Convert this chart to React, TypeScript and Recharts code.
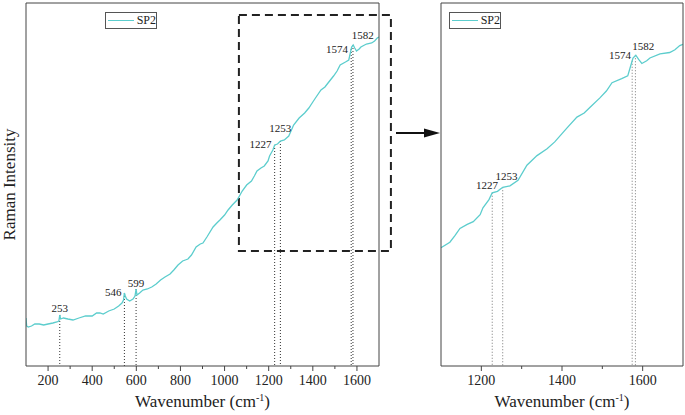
import { LineChart, Line, XAxis, YAxis, ReferenceLine, ReferenceArea, ReferenceDot, Legend } from "recharts";

// SP2 Raman spectrum, intensity in arbitrary units
const wavenumbers = [
  100, 103, 110, 125, 140, 160, 180, 200, 222, 240, 249, 253, 257, 270, 290, 313, 340, 370, 400, 420,
  435, 450, 475, 500, 520, 535, 542, 546, 550, 556, 570, 585, 594, 599, 603, 615, 630, 650, 670, 690,
  710, 730, 753, 770, 789, 810, 834, 850, 871, 890, 902, 920, 948, 965, 979, 1000, 1016, 1035, 1057, 1080,
  1100, 1122, 1135, 1147, 1165, 1180, 1197, 1204, 1219, 1227, 1240, 1253, 1271, 1291, 1313, 1338, 1363, 1382, 1400, 1412,
  1437, 1455, 1469, 1494, 1510, 1524, 1548, 1563, 1570, 1576, 1583, 1590, 1598, 1610, 1618, 1643, 1667, 1680, 1692, 1700,
];
const intensities = [
  48, 40, 39, 40, 42, 42, 41, 42, 43, 44, 45, 51, 47, 48, 47, 46, 48, 50, 50, 53,
  53, 52, 55, 57, 60, 63, 66, 73, 70, 67, 65, 67, 70, 77, 71, 73, 76, 77, 79, 82,
  86, 89, 92, 96, 101, 105, 107, 111, 119, 122, 123, 129, 139, 143, 146, 151, 156, 161, 166, 175,
  181, 185, 190, 195, 198, 200, 205, 210, 216, 221, 222, 225, 226, 230, 241, 248, 253, 258, 264, 268,
  276, 279, 283, 290, 295, 301, 304, 306, 313, 319, 321, 318, 315, 317, 319, 322, 323, 325, 328, 329,
];

const peakPositions = [253, 546, 599, 1227, 1253, 1574, 1582];
const peakHeights = [51, 73, 77, 221, 225, 317, 321];

const fullTicks = [200, 300, 400, 500, 600, 700, 800, 900, 1000, 1100, 1200, 1300, 1400, 1500, 1600];
const zoomTicks = [1200, 1300, 1400, 1500, 1600];

const spectrum = wavenumbers.map((x, i) => ({ x, y: intensities[i] }));
const zoomSpectrum = spectrum.filter((d) => d.x >= 1100);

const FONT = '"Liberation Serif", "Times New Roman", "DejaVu Serif", serif';
const TEAL = "#5ccdcd";
const AXIS = "#444";
const textStyle = { fontFamily: FONT };

// label nudges (dx, dy from the peak top)
const overviewOffsets: Record<number, [number, number]> = {
  253: [0, -3], 546: [-11, 3], 599: [0, -2], 1227: [-14, 3], 1253: [0, -9], 1574: [-14, 4], 1582: [10, -6],
};
const zoomOffsets: Record<number, [number, number]> = {
  1227: [-5, -4], 1253: [4, -7], 1574: [-12, -2], 1582: [8, -5],
};

function AxisTick(props: any) {
  const { x, y, payload } = props;
  const major = payload.value % 200 === 0;
  return (
    <g>
      <line x1={x} x2={x} y1={y} y2={y + (major ? 5 : 3)} stroke={AXIS} />
      {major && (
        <text x={x} y={y + 19} textAnchor="middle" fontSize={14} fill="#222" style={textStyle}>
          {payload.value}
        </text>
      )}
    </g>
  );
}

function XTitle(props: any) {
  const vb = props.viewBox;
  return (
    <text x={vb.x + vb.width / 2} y={407} textAnchor="middle" fontSize={17} fill="#222" style={textStyle}>
      <tspan>Wavenumber (cm</tspan>
      <tspan dy={-6} fontSize={10}>-1</tspan>
      <tspan dy={6}>)</tspan>
    </text>
  );
}

function YTitle(props: any) {
  const vb = props.viewBox;
  const cy = vb.y + vb.height / 2;
  return (
    <text x={15} y={cy} transform={`rotate(-90 15 ${cy})`} textAnchor="middle" fontSize={17} fill="#222" style={textStyle}>
      Raman Intensity
    </text>
  );
}

function LegendBox() {
  return (
    <div style={{ border: "1px solid #555", width: 50, height: 15, display: "flex", alignItems: "center", boxSizing: "content-box" }}>
      <div style={{ width: 26, height: 0, borderTop: `1.5px solid ${TEAL}`, marginLeft: 2 }} />
      <span style={{ fontFamily: FONT, fontSize: 12, color: "#222", marginLeft: 3, lineHeight: "15px" }}>SP2</span>
    </div>
  );
}

function Panel(props: {
  data: { x: number; y: number }[];
  width: number;
  left: number;
  right: number;
  xDomain: [number, number];
  yDomain: [number, number];
  ticks: number[];
  offsets: Record<number, [number, number]>;
  overview: boolean;
  legendLeft: number;
  lineColor: string;
}) {
  const { data, width, left, right, xDomain, yDomain, ticks, offsets, overview } = props;
  const peaks = peakPositions.map((p, i) => ({ p, h: peakHeights[i] })).filter((d) => offsets[d.p]);
  return (
    <LineChart width={width} height={415} data={data} margin={{ top: 2, right: right - 1, bottom: 0, left: left - 1 }}>
      <XAxis
        dataKey="x"
        type="number"
        domain={xDomain}
        ticks={ticks}
        interval={0}
        allowDataOverflow
        height={49}
        tickSize={0}
        tickMargin={0}
        tickLine={false}
        axisLine={{ stroke: AXIS }}
        tick={<AxisTick />}
        label={(p: any) => <XTitle {...p} />}
      />
      <XAxis xAxisId="top" orientation="top" dataKey="x" type="number" domain={xDomain} height={1} tick={false} tickLine={false} axisLine={{ stroke: AXIS }} />
      <YAxis
        type="number"
        domain={yDomain}
        allowDataOverflow
        width={1}
        tick={false}
        tickLine={false}
        axisLine={{ stroke: AXIS }}
        label={overview ? (p: any) => <YTitle {...p} /> : undefined}
      />
      <YAxis yAxisId="right" orientation="right" type="number" domain={yDomain} width={1} tick={false} tickLine={false} axisLine={{ stroke: AXIS }} />
      <Legend
        layout="vertical"
        align="center"
        verticalAlign="middle"
        wrapperStyle={{ position: "absolute", left: props.legendLeft, top: 12, width: 52, height: 17 }}
        content={() => <LegendBox />}
      />
      {peaks.map((d) => (
        <ReferenceLine
          key={`l${d.p}`}
          segment={[{ x: d.p, y: d.h }, { x: d.p, y: yDomain[0] }]}
          stroke={props.lineColor}
          strokeDasharray="1 2"
          strokeWidth={1}
          ifOverflow="visible"
        />
      ))}
      {overview && (
        <ReferenceArea
          x1={1065}
          x2={1754}
          y1={115}
          y2={351}
          ifOverflow="visible"
          fill="none"
          fillOpacity={0}
          stroke="#222"
          strokeWidth={2}
          strokeDasharray="8 5"
        />
      )}
      <Line type="linear" dataKey="y" name="SP2" stroke={TEAL} strokeWidth={1.3} dot={false} isAnimationActive={false} />
      {peaks.map((d) => (
        <ReferenceDot
          key={`d${d.p}`}
          x={d.p}
          y={d.h}
          r={0.1}
          fill="none"
          stroke="none"
          ifOverflow="visible"
          label={(lp: any) => (
            <text
              x={lp.viewBox.x + offsets[d.p][0]}
              y={lp.viewBox.y + offsets[d.p][1]}
              textAnchor="middle"
              fontSize={11}
              fill="#222"
              style={textStyle}
            >
              {d.p}
            </text>
          )}
        />
      ))}
    </LineChart>
  );
}

export default function App() {
  return (
    <div style={{ position: "absolute", left: 0, top: 0, width: 685, height: 415, background: "#fff", fontFamily: FONT }}>
      <div style={{ position: "absolute", left: 0, top: 0 }}>
        <Panel
          data={spectrum}
          width={400}
          left={26}
          right={21}
          xDomain={[100, 1700]}
          yDomain={[0, 363]}
          ticks={fullTicks}
          offsets={overviewOffsets}
          overview
          legendLeft={105}
          lineColor="#333"
        />
      </div>
      <div style={{ position: "absolute", left: 400, top: 0 }}>
        <Panel
          data={zoomSpectrum}
          width={285}
          left={41}
          right={2}
          xDomain={[1100, 1700]}
          yDomain={[95, 359]}
          ticks={zoomTicks}
          offsets={zoomOffsets}
          overview={false}
          legendLeft={49}
          lineColor="#777"
        />
      </div>
      <svg width={685} height={415} style={{ position: "absolute", left: 0, top: 0, pointerEvents: "none" }}>
        <line x1={396} y1={133} x2={426} y2={133} stroke="#111" strokeWidth={2} />
        <polygon points="440,133 424,128.5 424,137.5" fill="#111" />
      </svg>
    </div>
  );
}
